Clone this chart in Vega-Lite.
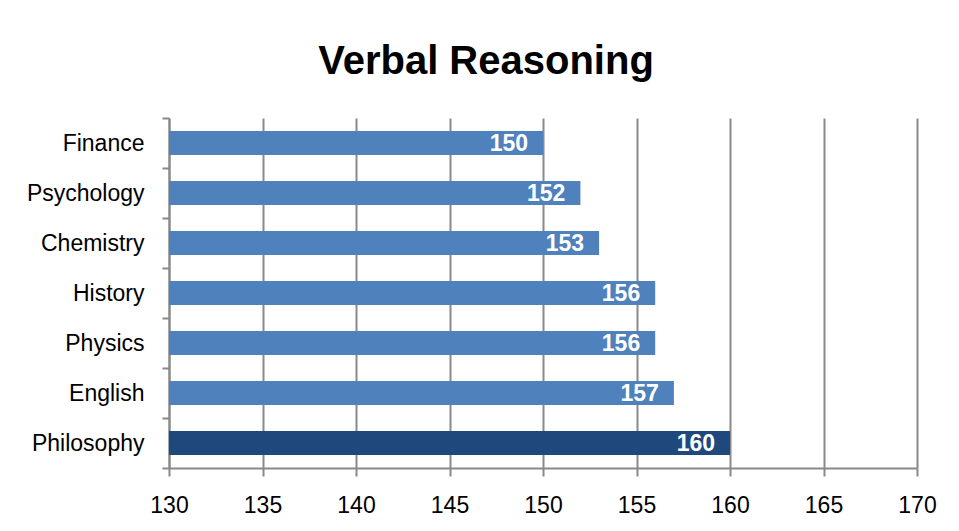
{
  "$schema": "https://vega.github.io/schema/vega-lite/v6.json",
  "width": 748,
  "height": 350,
  "autosize": {"type": "none"},
  "padding": {"left": 169, "top": 118, "right": 42, "bottom": 63},
  "background": "white",
  "title": {
    "text": "Verbal Reasoning",
    "font": "Liberation Sans",
    "fontSize": 40,
    "fontWeight": "bold",
    "color": "black",
    "anchor": "middle",
    "baseline": "alphabetic",
    "offset": 43,
    "dx": -57,
    "dy": 50
  },
  "data": {
    "values": [
      {"subject": "Finance", "score": 150, "highlight": "no"},
      {"subject": "Psychology", "score": 152, "highlight": "no"},
      {"subject": "Chemistry", "score": 153, "highlight": "no"},
      {"subject": "History", "score": 156, "highlight": "no"},
      {"subject": "Physics", "score": 156, "highlight": "no"},
      {"subject": "English", "score": 157, "highlight": "no"},
      {"subject": "Philosophy", "score": 160, "highlight": "yes"}
    ]
  },
  "encoding": {
    "y": {
      "field": "subject",
      "type": "nominal",
      "sort": ["Finance", "Psychology", "Chemistry", "History", "Physics", "English", "Philosophy"],
      "scale": {"paddingInner": 0, "paddingOuter": 0},
      "axis": {
        "title": null,
        "tickBand": "extent",
        "tickSize": 7,
        "tickWidth": 2,
        "tickColor": "#898989",
        "domainColor": "#898989",
        "domainWidth": 2,
        "labelPadding": 18,
        "labelFont": "Liberation Sans",
        "labelFontSize": 23,
        "labelColor": "black",
        "grid": false
      }
    },
    "x": {
      "field": "score",
      "type": "quantitative",
      "scale": {"domain": [130, 170], "zero": false, "nice": false},
      "axis": {
        "title": null,
        "values": [130, 135, 140, 145, 150, 155, 160, 165, 170],
        "labelFlush": false,
        "tickSize": 8,
        "tickWidth": 2,
        "tickColor": "#898989",
        "domainColor": "#898989",
        "domainWidth": 2,
        "grid": true,
        "gridColor": "#898989",
        "gridWidth": 2,
        "labelPadding": 18,
        "labelFont": "Liberation Sans",
        "labelFontSize": 23,
        "labelColor": "black"
      }
    }
  },
  "layer": [
    {
      "mark": {"type": "bar", "clip": true, "height": {"band": 0.48}},
      "encoding": {
        "color": {
          "field": "highlight",
          "type": "nominal",
          "scale": {"domain": ["no", "yes"], "range": ["#4F81BD", "#1F497D"]},
          "legend": null
        }
      }
    },
    {
      "mark": {
        "type": "text",
        "align": "right",
        "baseline": "middle",
        "dx": -15,
        "dy": 1,
        "font": "Liberation Sans",
        "fontSize": 23,
        "fontWeight": "bold",
        "color": "white"
      },
      "encoding": {
        "text": {"field": "score", "type": "quantitative"}
      }
    }
  ],
  "config": {
    "view": {"stroke": null}
  }
}
